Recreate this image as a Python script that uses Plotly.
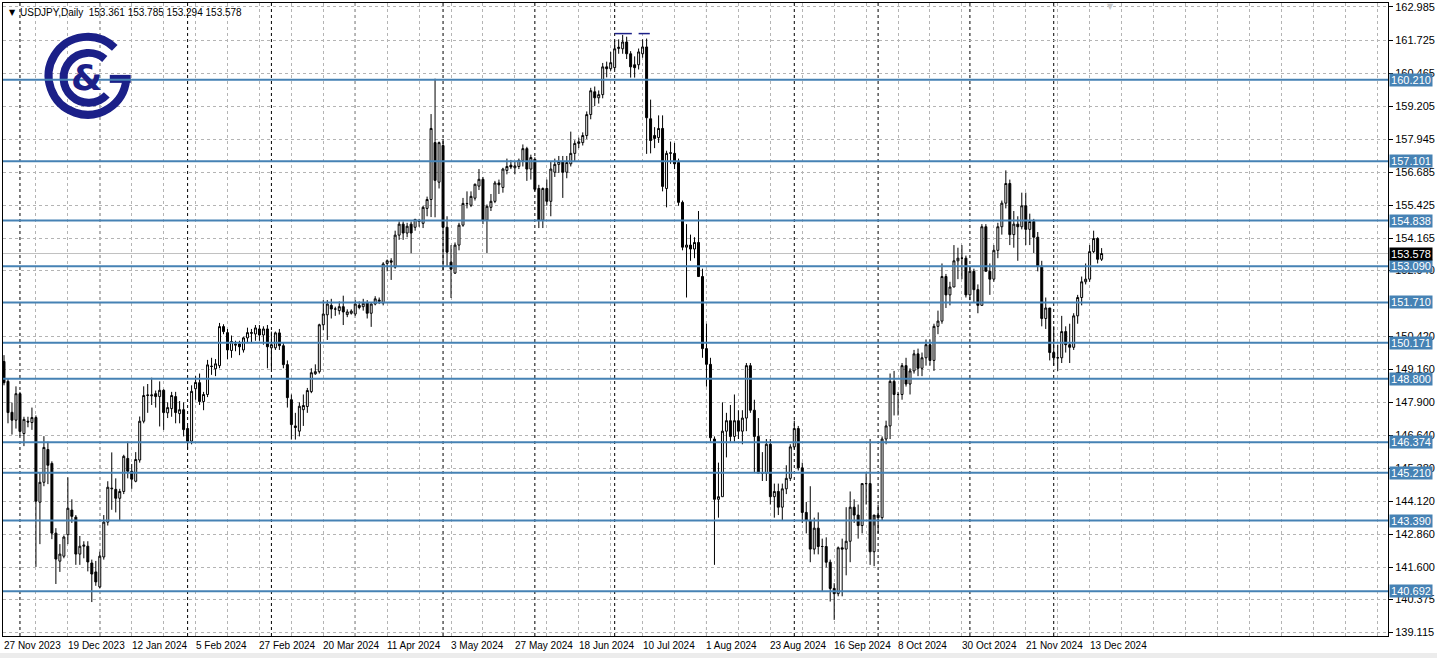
import base64
import pandas as pd
import plotly.graph_objects as go

# ---------------- data ----------------
OPEN = [
    149.46,148.70,147.52,147.22,148.23,146.71,147.18,147.13,147.32,144.09,
    144.85,146.10,145.57,142.91,141.84,142.03,142.85,143.79,143.52,142.11,
    142.41,142.41,141.77,141.43,140.86,142.00,143.33,144.60,144.58,144.24,
    144.50,145.76,145.27,144.89,145.70,147.18,148.16,148.15,148.23,148.12,
    148.36,147.50,147.66,148.12,147.47,147.62,146.90,146.42,148.42,148.65,
    147.93,148.20,149.28,149.18,149.30,150.79,150.56,149.88,150.08,150.13,
    149.90,150.36,150.56,150.51,150.70,150.47,150.70,149.98,149.98,150.55,
    150.06,149.34,148.00,147.00,146.80,147.62,147.74,148.31,148.99,149.07,
    150.86,151.24,151.60,151.46,151.40,151.55,151.25,151.30,151.27,151.60,
    151.55,151.70,151.30,151.65,151.75,151.69,153.20,153.30,153.06,154.28,
    154.70,154.36,154.70,154.58,154.80,154.73,155.30,155.64,157.81,156.30,
    157.70,154.58,153.25,152.83,153.90,154.66,155.49,155.42,155.69,156.15,
    156.41,154.85,155.34,155.57,156.27,156.10,156.75,156.95,156.85,156.90,
    157.13,157.58,156.80,157.17,156.06,154.85,156.06,155.57,156.68,156.98,
    157.09,156.68,157.00,157.40,157.78,157.81,158.08,158.88,159.75,159.52,
    159.64,160.70,160.63,160.67,161.40,161.39,161.65,161.20,160.78,160.78,
    161.20,161.46,158.72,158.08,158.00,158.35,156.06,157.40,157.40,157.05,
    155.53,153.82,153.90,153.75,154.00,152.70,149.95,149.35,146.50,144.20,
    144.30,146.80,147.20,146.60,147.20,146.80,147.30,149.30,147.60,146.60,
    145.20,145.20,146.30,144.30,144.50,143.90,144.60,145.00,146.20,146.90,
    145.40,143.70,143.40,142.30,143.10,142.40,142.40,141.80,140.80,140.60,
    142.35,142.30,142.60,143.90,143.60,143.20,144.80,144.80,142.20,143.60,
    143.50,146.50,147.00,148.70,148.20,148.20,149.30,148.60,149.10,149.75,
    149.20,149.60,150.10,149.50,150.80,151.00,152.70,152.00,152.30,153.30,
    153.40,153.40,152.00,152.90,152.20,151.60,154.60,152.90,152.60,153.70,
    154.60,155.50,156.25,154.30,154.70,154.60,155.40,154.50,154.80,154.20,
    153.10,151.10,151.50,149.80,149.60,149.60,150.60,150.10,150.00,151.20,
    151.90,152.50,152.60,153.65,154.15,153.361,
]
HIGH = [
    149.70,148.80,147.89,148.51,148.30,147.35,147.35,147.70,147.40,145.23,
    146.61,146.40,145.65,143.10,142.49,142.82,145.04,144.20,143.60,142.80,
    142.60,142.60,141.90,141.85,142.20,143.60,144.89,145.99,145.00,144.60,
    145.90,146.40,145.55,146.00,147.36,148.51,148.60,148.84,148.35,148.70,
    148.40,147.90,148.30,148.30,147.95,147.90,147.00,148.55,148.90,149.00,
    148.30,149.52,149.60,149.55,150.93,150.88,150.70,150.45,150.25,150.25,
    150.40,150.75,150.70,150.85,150.85,150.80,150.85,150.60,150.60,150.70,
    150.20,149.50,148.20,147.50,147.90,148.20,148.45,149.20,149.35,150.90,
    151.80,151.80,151.85,151.55,151.75,151.97,151.45,151.45,151.80,151.75,
    151.85,151.80,151.70,151.95,151.90,153.25,153.35,153.40,154.45,154.80,
    154.80,154.75,154.80,154.90,154.90,155.40,155.75,158.90,160.25,157.85,
    157.95,155.00,153.90,154.00,154.75,155.70,155.95,155.95,156.25,156.80,
    156.50,155.45,155.85,156.35,156.40,156.85,157.20,157.15,157.10,157.20,
    157.74,157.65,157.35,157.25,156.20,156.10,156.40,157.10,157.20,157.30,
    157.30,157.30,158.23,157.90,158.00,158.20,159.00,159.90,159.95,159.80,
    160.85,160.90,161.27,161.70,161.75,161.92,161.85,161.30,161.10,161.40,
    161.75,161.78,159.45,158.40,158.85,158.85,157.50,157.85,157.80,157.20,
    155.60,154.70,154.30,154.20,155.20,153.00,150.90,149.60,146.60,145.60,
    147.90,147.50,147.80,148.20,147.60,147.60,149.40,149.40,148.00,147.30,
    146.00,146.50,146.50,144.80,144.80,144.80,145.50,146.30,147.20,147.00,
    145.60,144.10,144.70,143.50,143.70,142.70,142.75,141.90,141.00,142.40,
    142.70,143.90,144.50,144.20,144.00,144.80,145.20,146.50,143.20,144.00,
    146.60,147.20,149.00,149.10,148.30,149.40,149.60,149.20,149.90,149.95,
    149.80,150.30,150.30,150.90,151.40,153.20,152.80,152.50,153.90,153.80,
    153.90,153.50,153.10,153.00,152.40,154.70,154.70,153.20,153.90,154.75,
    155.60,156.75,156.40,155.20,155.00,155.90,155.90,155.10,154.90,154.40,
    153.30,151.90,151.50,150.80,150.10,151.20,150.80,150.90,151.30,152.00,
    152.70,153.20,153.90,154.45,154.20,153.785,
]
LOW = [
    148.55,147.10,146.67,146.90,146.61,146.23,146.95,146.85,141.62,142.49,
    144.70,144.78,142.68,140.97,141.43,141.95,142.49,143.30,141.70,141.70,
    141.95,141.45,140.28,140.90,140.80,141.90,143.20,143.80,143.70,143.40,
    144.40,145.00,144.60,144.85,145.60,147.10,147.50,147.80,147.70,146.98,
    146.85,147.30,147.35,147.10,147.10,146.60,146.10,146.30,148.00,147.80,
    147.60,148.10,148.95,148.90,149.20,150.50,149.55,149.60,149.85,149.70,
    149.80,150.20,150.20,150.25,150.25,150.10,149.20,149.15,149.90,149.90,
    149.20,147.70,146.48,146.48,146.60,147.00,147.50,148.25,148.95,149.00,
    150.65,150.28,151.10,151.20,151.25,150.85,151.15,151.25,151.20,151.45,
    151.40,151.10,150.78,151.60,151.65,151.60,152.90,152.57,153.00,154.10,
    154.10,154.20,153.59,154.45,154.60,154.55,155.00,154.97,154.96,156.06,
    152.94,153.08,151.88,152.80,153.70,154.60,155.30,155.35,155.60,156.00,
    154.70,153.60,155.20,155.50,155.85,155.90,156.60,156.80,156.60,156.80,
    156.90,156.35,156.40,155.95,154.55,154.55,155.40,155.00,156.50,156.65,
    155.70,156.45,156.90,157.10,157.60,157.70,157.95,158.70,159.20,159.30,
    159.50,160.30,160.55,160.60,161.20,161.20,161.00,160.29,160.29,160.60,
    161.05,157.38,157.40,157.60,157.80,155.95,155.34,157.00,156.80,155.40,
    153.70,151.90,153.30,153.40,152.70,149.60,148.50,146.40,141.70,143.50,
    144.30,145.80,146.40,146.40,146.50,146.30,146.80,147.50,145.20,145.20,
    144.90,144.90,144.00,143.50,143.60,143.40,144.40,144.90,146.10,145.30,
    143.30,142.90,141.80,142.10,142.10,140.70,141.60,140.30,139.60,140.50,
    140.50,141.30,141.80,143.30,142.70,142.90,144.00,141.70,141.65,142.90,
    143.40,146.30,146.50,147.40,147.40,148.00,148.50,148.20,149.00,148.90,
    148.90,149.30,149.30,149.10,150.50,150.90,151.50,151.60,152.30,152.60,
    152.60,151.90,151.80,151.70,151.30,151.60,152.90,152.00,152.50,153.40,
    154.30,155.30,153.90,153.80,153.30,154.50,153.90,153.90,153.60,152.90,
    150.80,150.70,149.50,149.30,149.10,149.40,149.80,149.40,149.90,150.90,
    151.60,152.40,152.50,153.60,153.20,153.294,
]
CLOSE = [
    148.65,147.51,147.22,148.23,146.79,147.25,147.15,147.32,144.13,144.85,
    146.18,145.50,142.91,141.92,142.11,142.76,143.86,143.55,142.11,142.41,
    142.45,141.81,141.35,141.05,142.03,143.33,144.66,144.62,144.24,144.50,
    145.84,145.27,144.97,145.72,147.18,148.16,148.18,148.18,148.12,148.36,
    147.51,147.70,148.16,147.51,147.62,146.86,146.41,148.32,148.66,147.93,
    148.20,149.33,149.27,149.37,150.79,150.60,149.90,150.22,150.12,150.02,
    150.36,150.56,150.54,150.74,150.47,150.70,150.02,150.10,150.55,150.06,
    149.34,148.08,147.05,146.94,147.75,147.78,148.35,149.03,149.07,150.86,
    151.27,151.65,151.46,151.46,151.55,151.35,151.35,151.38,151.65,151.52,
    151.68,151.30,151.65,151.85,151.80,153.18,153.30,153.25,154.28,154.70,
    154.36,154.62,154.36,154.88,154.82,155.34,155.64,158.35,156.37,157.81,
    154.58,153.63,152.98,153.90,154.66,155.49,155.48,155.76,156.22,156.41,
    154.85,155.38,155.57,156.27,156.20,156.80,156.90,156.88,156.92,157.13,
    157.58,156.80,157.24,156.03,154.85,156.06,155.57,156.80,156.98,157.09,
    156.68,157.05,157.40,157.78,157.84,158.08,158.88,159.79,159.52,159.64,
    160.70,160.63,160.86,161.39,161.45,161.65,161.20,160.70,160.67,161.27,
    161.46,158.76,157.89,157.97,158.35,156.14,157.40,157.42,157.00,155.53,
    153.82,153.90,153.75,154.00,152.70,149.95,149.35,146.55,144.20,144.30,
    146.80,147.20,146.60,147.20,146.80,147.30,149.30,147.60,146.60,145.20,
    145.20,146.30,144.30,144.50,143.90,144.60,145.00,146.20,146.90,145.40,
    143.70,143.40,142.30,143.10,142.40,142.40,141.80,140.80,140.60,142.35,
    142.30,142.60,143.90,143.60,143.20,144.80,144.80,142.20,143.60,143.50,
    146.50,147.00,148.70,148.20,148.20,149.30,148.60,149.10,149.75,149.20,
    149.60,150.10,149.50,150.80,151.00,152.70,152.00,152.30,153.30,153.40,
    153.40,152.00,152.90,152.20,151.60,154.60,152.90,152.60,153.70,154.60,
    155.50,156.25,154.30,154.70,154.60,155.40,154.50,154.80,154.20,153.10,
    151.10,151.50,149.80,149.60,149.60,150.60,150.10,150.00,151.20,151.90,
    152.50,152.60,153.65,154.15,153.36,153.578,
]

# trading calendar (weekdays, market closed on these two days)
FIRST_DAY = "2023-11-27"
LAST_DAY = "2024-12-18"
HOLIDAYS = ["2023-12-25", "2024-01-01"]

LEVELS = [160.210, 157.101, 154.838, 153.090, 151.710, 150.171,
          148.800, 146.374, 145.210, 143.390, 140.692]
Y_TICKS = [162.985, 161.725, 160.465, 159.205, 157.945, 156.685, 155.425,
           154.165, 152.940, 150.420, 149.160, 147.900, 146.640,
           145.380, 144.120, 142.860, 141.600, 140.375, 139.115]
CURRENT_PRICE = 153.578
DOUBLE_TOP = 161.97
SYMBOL = "USDJPY,Daily"
HEADER_OHLC = ["153.361", "153.785", "153.294", "153.578"]

# ---------------- geometry ----------------
W, H = 1437, 658
ML, MR, MT, MB = 2, 47, 2, 22
PW, PH = W - ML - MR, H - MT - MB
Y_RANGE = [138.985, 163.137]
X_RANGE = [-0.25, 346.75]

dates = [d for d in pd.bdate_range(FIRST_DAY, LAST_DAY)
         if d.strftime("%Y-%m-%d") not in HOLIDAYS]
n = len(OPEN)
dates = dates[:n]
idx = list(range(n))

LEVEL_BLUE = "#4682B4"
NAVY = "#1b2088"
GRID = "#b4b4b4"
FONT = "Liberation Sans"

fig = go.Figure()
fig.add_trace(go.Candlestick(
    x=idx, open=OPEN, high=HIGH, low=LOW, close=CLOSE,
    increasing=dict(line=dict(color="black", width=1), fillcolor="white"),
    decreasing=dict(line=dict(color="black", width=1), fillcolor="black"),
    whiskerwidth=0, hoverinfo="skip", showlegend=False,
))

shapes = []
# month separators (first trading day of each month)
for i in range(1, n):
    if dates[i].month != dates[i - 1].month:
        shapes.append(dict(type="line", xref="x", yref="paper", x0=i, x1=i, y0=0, y1=1,
                           line=dict(color="black", width=1, dash="3px,3px"), layer="below"))
# horizontal levels
for lv in LEVELS:
    shapes.append(dict(type="line", xref="paper", yref="y", x0=0, x1=1, y0=lv, y1=lv,
                       line=dict(color=LEVEL_BLUE, width=2)))
# current price line
shapes.append(dict(type="line", xref="paper", yref="y", x0=0, x1=1,
                   y0=CURRENT_PRICE, y1=CURRENT_PRICE,
                   line=dict(color="#c0c0c0", width=1), layer="below"))
# double-top marks
shapes.append(dict(type="line", xref="x", yref="y", x0=153, x1=157.3,
                   y0=DOUBLE_TOP, y1=DOUBLE_TOP, line=dict(color=NAVY, width=1.5)))
shapes.append(dict(type="line", xref="x", yref="y", x0=159, x1=161.8,
                   y0=DOUBLE_TOP, y1=DOUBLE_TOP, line=dict(color=NAVY, width=1.5)))
# bottom grey strip (window status area)
shapes.append(dict(type="rect", xref="paper", yref="paper", x0=-0.01, x1=1.04,
                   y0=-(MB + 4) / PH, y1=-17 / PH, line=dict(width=0),
                   fillcolor="#ececec", layer="above"))

annotations = []
# x labels every 16 bars, left-aligned at bar
for i in range(0, n, 16):
    annotations.append(dict(x=i, y=0, xref="x", yref="paper", xanchor="left", yanchor="top",
                            yshift=-2, xshift=-2, showarrow=False,
                            text=f"{dates[i].day} {dates[i].strftime('%b %Y')}",
                            font=dict(family=FONT, size=10, color="black")))
# level labels on price scale
for lv in LEVELS:
    annotations.append(dict(x=1, y=lv, xref="paper", yref="y", xanchor="left", yanchor="middle",
                            xshift=1, showarrow=False, text=f"{lv:.3f}", width=42, height=12,
                            font=dict(family=FONT, size=11, color="white"),
                            bgcolor=LEVEL_BLUE, borderpad=0))
annotations.append(dict(x=1, y=CURRENT_PRICE, xref="paper", yref="y", xanchor="left",
                        yanchor="middle", xshift=1, showarrow=False, text=f"{CURRENT_PRICE:.3f}",
                        width=42, height=12,
                        font=dict(family=FONT, size=11, color="white"),
                        bgcolor="black", borderpad=0))
# header
annotations.append(dict(x=0, y=1, xref="paper", yref="paper", xanchor="left", yanchor="top",
                        xshift=4, yshift=-3, showarrow=False, text="▼",
                        font=dict(family="DejaVu Sans", size=8, color="black")))
annotations.append(dict(x=0, y=1, xref="paper", yref="paper", xanchor="left", yanchor="top",
                        xshift=15, yshift=-2, showarrow=False,
                        text=SYMBOL + "  " + " ".join(HEADER_OHLC),
                        font=dict(family=FONT, size=10, color="black")))
# chart-shift marker
annotations.append(dict(x=277.3, y=1, xref="x", yref="paper", xanchor="center", yanchor="top",
                        yshift=3, showarrow=False, text="▼",
                        font=dict(family="DejaVu Sans", size=8, color="#c8c8c8")))
# logo ampersand
annotations.append(dict(x=(86 - ML) / PW, y=1 - (77 - MT) / PH, xref="paper", yref="paper",
                        xanchor="center", yanchor="middle", showarrow=False, text="<b>&</b>",
                        font=dict(family="DejaVu Sans", size=36, color=NAVY)))

svg = f'''<svg xmlns="http://www.w3.org/2000/svg" width="100" height="100" viewBox="0 0 100 100">
<path d="M 78 21 A 39 39 0 1 0 89.5 53" fill="none" stroke="{NAVY}" stroke-width="8"/>
<rect x="73" y="48" width="21" height="8" fill="{NAVY}"/>
<path d="M 68 32 A 25 25 0 1 0 70 68" fill="none" stroke="{NAVY}" stroke-width="8"/>
</svg>'''
logo_src = "data:image/svg+xml;base64," + base64.b64encode(svg.encode()).decode()

fig.update_layout(
    width=W, height=H, margin=dict(l=ML, r=MR, t=MT, b=MB),
    paper_bgcolor="white", plot_bgcolor="white", showlegend=False,
    font=dict(family=FONT, size=11, color="black"),
    xaxis=dict(range=X_RANGE, rangeslider=dict(visible=False), showticklabels=False,
               tickvals=list(range(0, 345, 8)), ticks="", showgrid=True, gridcolor=GRID,
               griddash="3px,3px", gridwidth=1, zeroline=False,
               showline=True, linecolor="black", linewidth=1, mirror=True),
    yaxis=dict(range=Y_RANGE, side="right", tickvals=Y_TICKS,
               ticktext=[f"{v:.3f}" for v in Y_TICKS], ticks="outside", ticklen=4,
               tickcolor="black", showgrid=True, gridcolor=GRID, griddash="3px,3px",
               zeroline=False, showline=True, linecolor="black", linewidth=1, mirror=True,
               tickfont=dict(family=FONT, size=11)),
    shapes=shapes, annotations=annotations,
    images=[dict(source=logo_src, xref="paper", yref="paper",
                 x=(36 - ML) / PW, y=1 - (26 - MT) / PH, sizex=100 / PW, sizey=100 / PH,
                 sizing="stretch", xanchor="left", yanchor="top", layer="above")],
)

fig.write_html("out.html", config={"displayModeBar": False},
               post_script="document.body.style.margin='0';document.body.style.overflow='hidden';")
